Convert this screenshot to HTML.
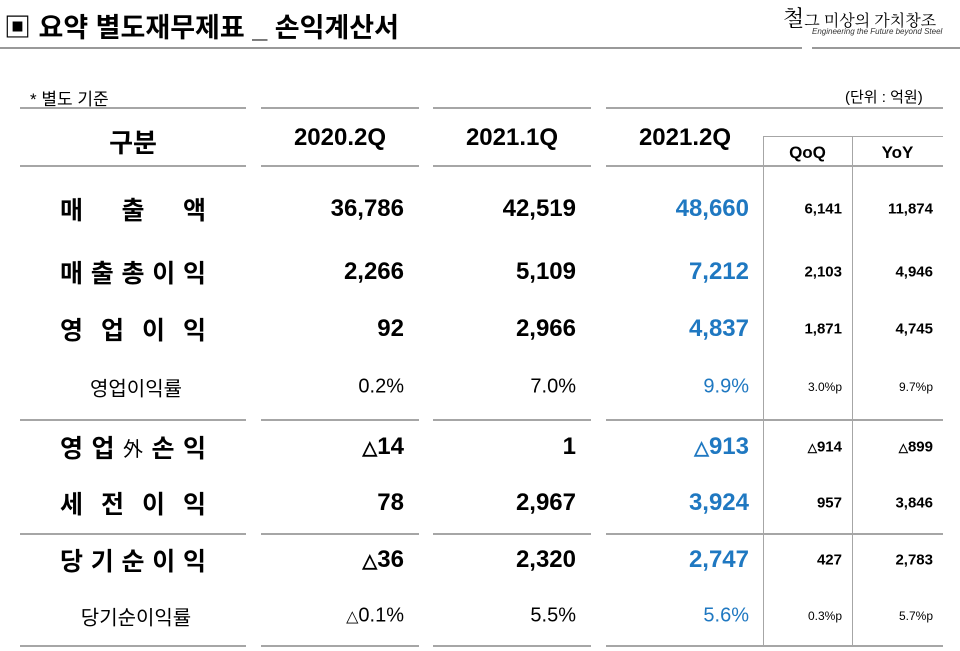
<!DOCTYPE html>
<html><head><meta charset="utf-8">
<style>
body{margin:0;width:960px;height:651px;background:#fff;position:relative;overflow:hidden;font-family:"Liberation Sans","Noto Sans CJK KR",sans-serif;color:#000}
.a{position:absolute;white-space:nowrap}
.hl{position:absolute;height:2px;background:#a6a6a6}
.vl{position:absolute;width:1px;background:#a6a6a6}
.lbl{position:absolute;left:20px;width:226px;font-weight:bold;font-size:25px;display:flex;align-items:center;justify-content:space-between;padding:0 40px 0 40px;box-sizing:border-box;transform:translateY(-50%)}
.lbl.sm{font-size:20px;font-weight:normal;justify-content:center;padding:0 0 0 6px}
.n{position:absolute;transform:translateY(-50%);text-align:right;font-weight:bold;font-size:24px}
.sm2{font-weight:normal;font-size:20px}
.blue{color:#1f78c1}
.q{font-size:15px}
.qs{font-size:12px;font-weight:normal}
.tri{font-size:0.8em;font-family:"Liberation Sans",sans-serif}
</style></head><body>
<div class="a" style="left:4px;top:6px;font-size:27px;font-weight:bold">▣ 요약 별도재무제표 _ 손익계산서</div>
<div class="a" style="left:783px;top:2px;font-size:22px;font-family:'Noto Serif CJK SC',serif">철<span style="font-size:16px">그 미상의 가치창조</span></div>
<div class="a" style="left:812px;top:27px;font-size:8px;font-style:italic;color:#333">Engineering the Future beyond Steel</div>
<div class="hl" style="left:0;top:47px;width:802px;background:#999"></div>
<div class="hl" style="left:812px;top:47px;width:148px;background:#999"></div>
<div class="a" style="left:30px;top:85px;font-size:17px">* 별도 기준</div>
<div class="a" style="left:845px;top:86px;font-size:15px">(단위 : 억원)</div>
<div id="t"></div>
<script>
const labels=["매 출 액","매출총이익","영 업 이 익","영업이익률","영업外 손익","세 전 이 익","당기순이익","당기순이익률"];
const v2020=["36,786","2,266","92","0.2%","△14","78","△36","△0.1%"];
const v2021q1=["42,519","5,109","2,966","7.0%","1","2,967","2,320","5.5%"];
const v2021q2=["48,660","7,212","4,837","9.9%","△913","3,924","2,747","5.6%"];
const qoq=["6,141","2,103","1,871","3.0%p","△914","957","427","0.3%p"];
const yoy=["11,874","4,946","4,745","9.7%p","△899","3,846","2,783","5.7%p"];
const ys=[209,272,329,387,447,503,560,616];
const small=[3,7];
const t=document.getElementById('t');
function add(html,name){const d=document.createElement('div');d.innerHTML=html;const e=d.firstChild;


t.appendChild(e);return e;}
function fmt(s){return s.replace('△','<span class="tri">△</span>');}
[[20,226],[261,158],[433,158],[606,337]].forEach((c,i)=>{
 add(`<div class="hl" style="left:${c[0]}px;top:107px;width:${c[1]}px"></div>`,'header-top-rule');
 [165,419,533,645].forEach(y=>{
  add(`<div class="hl" style="left:${c[0]}px;top:${y}px;width:${c[1]}px"></div>`,'row-rule');
 });
});
add(`<div class="hl" style="left:763px;top:136px;width:180px;height:1px"></div>`,'qoq-yoy-top-rule');
add(`<div class="vl" style="left:763px;top:136px;height:510px"></div>`,'qoq-divider');
add(`<div class="vl" style="left:852px;top:136px;height:510px"></div>`,'yoy-divider');
add(`<div class="a" style="left:20px;width:226px;text-align:center;top:123px;font-size:26px;font-weight:bold">구분</div>`,'header-category');
add(`<div class="a" style="left:261px;width:158px;text-align:center;top:124px;font-size:24px;font-weight:bold">2020.2Q</div>`,'header-2020-2q');
add(`<div class="a" style="left:433px;width:158px;text-align:center;top:124px;font-size:24px;font-weight:bold">2021.1Q</div>`,'header-2021-1q');
add(`<div class="a" style="left:606px;width:158px;text-align:center;top:124px;font-size:24px;font-weight:bold">2021.2Q</div>`,'header-2021-2q');
add(`<div class="a" style="left:763px;width:89px;text-align:center;top:143px;font-size:17px;font-weight:bold">QoQ</div>`,'header-qoq');
add(`<div class="a" style="left:852px;width:91px;text-align:center;top:143px;font-size:17px;font-weight:bold">YoY</div>`,'header-yoy');
labels.forEach((l,i)=>{
 const sm=small.includes(i);const y=ys[i];
 let inner=sm?l:l.split(/\s*/).filter(x=>x).map(c=>`<span${c=='外'?' style="font-weight:normal;font-size:20px"':''}>${c}</span>`).join('');
 add(`<div class="lbl${sm?' sm':''}" style="top:${y}px">${inner}</div>`,'row-label');
 const cls=sm?' sm2':'';
 add(`<div class="n${cls}" style="left:261px;width:143px;top:${y}px">${fmt(v2020[i])}</div>`,'value-2020-2q');
 add(`<div class="n${cls}" style="left:433px;width:143px;top:${y}px">${fmt(v2021q1[i])}</div>`,'value-2021-1q');
 add(`<div class="n blue${cls}" style="left:606px;width:143px;top:${y}px">${fmt(v2021q2[i])}</div>`,'value-2021-2q');
 const qc=sm?' qs':' q';
 add(`<div class="n${qc}" style="left:763px;width:79px;top:${y}px">${fmt(qoq[i])}</div>`,'value-qoq');
 add(`<div class="n${qc}" style="left:852px;width:81px;top:${y}px">${fmt(yoy[i])}</div>`,'value-yoy');
});
</script>
</body></html>
